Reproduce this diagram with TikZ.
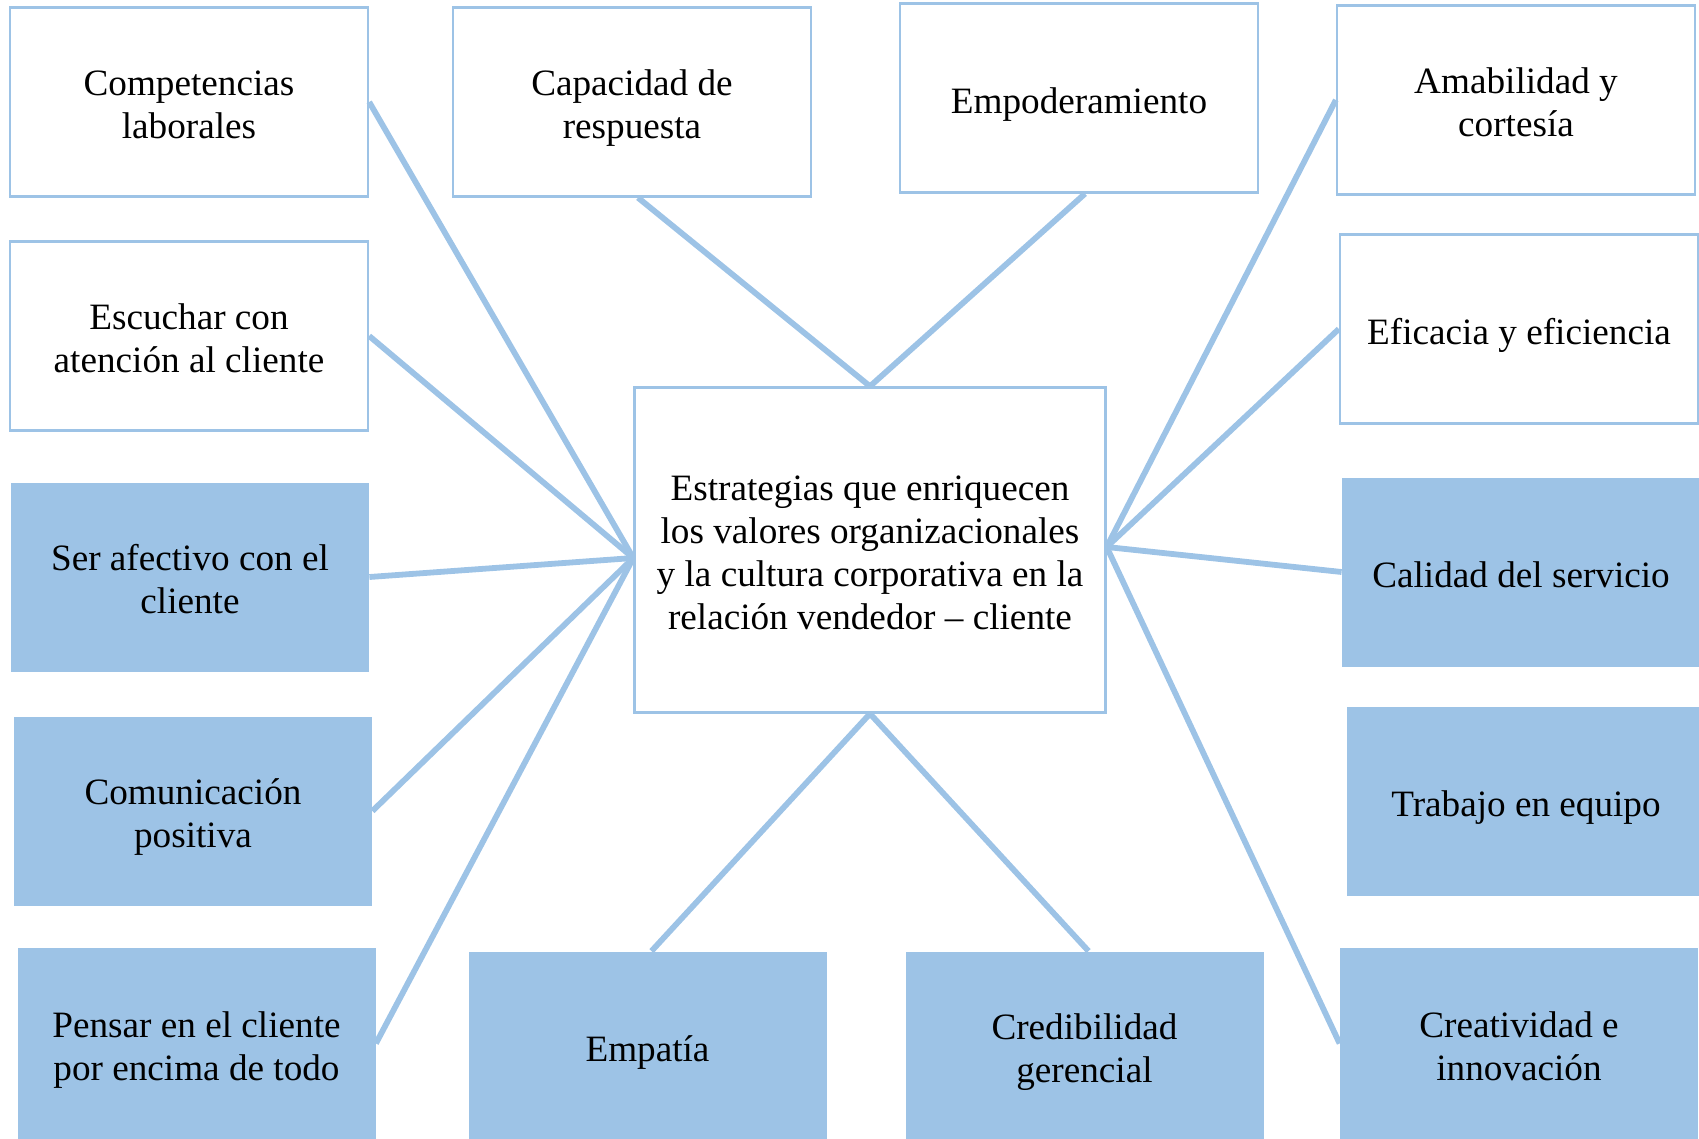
\documentclass[tikz,border=0pt]{standalone}
\usepackage{fontspec}
\setmainfont{Liberation Serif}
\definecolor{linkblue}{HTML}{9DC3E6}
\newcommand{\firstln}{\rule{0pt}{21.6pt}}

\begin{document}
\begin{tikzpicture}[
    x = 0.5pt,
    y = -0.5pt,
    box/.style={
        rectangle,
        minimum width = 179pt,
        minimum height = 94.5pt,
        inner sep = 0pt,
        align = center,
        font = \fontsize{18.6}{21.6}\selectfont,
        execute at end node = \strut
    },
    outbox/.style={
        box,
        draw = linkblue,
        line width = 1.2pt,
        fill = white
    },
    fillbox/.style={
        box,
        fill = linkblue
    },
    link/.style={
        draw = linkblue,
        line width = 2.9pt
    }
]

\path[use as bounding box, clip] (0,0) rectangle (1699,1139);

% top row
\node[outbox] (comp)   at (189,102)  {\firstln Competencias\\laborales};
\node[outbox] (capac)  at (632,102)  {\firstln Capacidad de\\respuesta};
\node[outbox] (empod)  at (1079,98)  {\firstln Empoderamiento};
\node[outbox] (amab)   at (1516,100) {\firstln Amabilidad y\\cortesía};

% second row
\node[outbox] (escu)   at (189,336)  {\firstln Escuchar con\\atención al cliente};
\node[outbox] (efic)   at (1519,329) {\firstln Eficacia y eficiencia};

% hub
\node[outbox, minimum width = 235.5pt, minimum height = 162.5pt] (hub) at (870,550)
    {\firstln Estrategias que enriquecen\\los valores organizacionales\\y la cultura corporativa en la\\relación vendedor – cliente};

% filled boxes
\node[fillbox] (afec)   at (190,577)    {\firstln Ser afectivo con el\\cliente};
\node[fillbox] (calid)  at (1521,572)   {\firstln Calidad del servicio};
\node[fillbox] (comun)  at (193,811)    {\firstln Comunicación\\positiva};
\node[fillbox] (trab)   at (1526,801)   {\firstln Trabajo en equipo};
\node[fillbox, minimum height = 95.5pt] (pensar) at (196.5,1043.5) {\firstln Pensar en el cliente\\por encima de todo};
\node[fillbox] (empat)  at (647.5,1046) {\firstln Empatía};
\node[fillbox] (credib) at (1084.5,1046){\firstln Credibilidad\\gerencial};
\node[fillbox, minimum height = 95.5pt] (creat)  at (1519,1043.5)  {\firstln Creatividad e\\innovación};

\foreach \nd in {comp,escu,afec,comun,pensar}
    \draw[link] (\nd.east) -- ([yshift=-4pt]hub.west);
\foreach \nd in {amab,efic,calid,creat}
    \draw[link] (\nd.west) -- ([yshift=1.5pt]hub.east);
\foreach \nd in {capac,empod}
    \draw[link] ([xshift=3pt]\nd.south) -- (hub.north);
\foreach \nd in {empat,credib}
    \draw[link] ([xshift=2pt]\nd.north) -- (hub.south);

\end{tikzpicture}
\end{document}
